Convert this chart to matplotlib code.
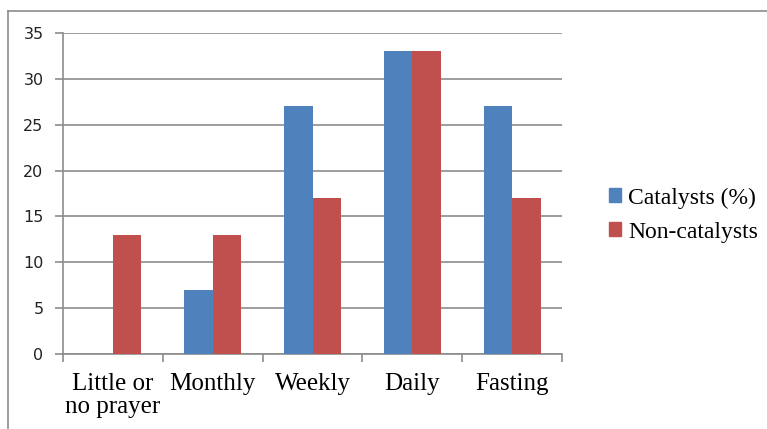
import matplotlib
matplotlib.use("Agg")
import matplotlib.pyplot as plt
import numpy as np
from matplotlib.patches import Patch
from matplotlib.lines import Line2D

categorias = ["Little or\nno prayer", "Monthly", "Weekly", "Daily", "Fasting"]
catalizadores = [0, 7, 27, 33, 27]
no_catalizadores = [13, 13, 17, 33, 17]
series = ["Catalysts (%)", "Non-catalysts"]
colores = ["#4F81BD", "#C0504D"]
yticks = [0, 5, 10, 15, 20, 25, 30, 35]

W, H = 767, 429
fig = plt.figure(figsize=(W / 100, H / 100), dpi=100)

# marco exterior (solo arriba e izquierda visibles)
fig.add_artist(Line2D([8 / W, 1.0], [1 - 11 / H, 1 - 11 / H], color="#8c8c8c", lw=1.2, transform=fig.transFigure))
fig.add_artist(Line2D([8 / W, 8 / W], [0, 1 - 11 / H], color="#8c8c8c", lw=1.2, transform=fig.transFigure))

ax = fig.add_axes([63 / W, 1 - 354 / H, (562 - 63) / W, (354 - 33) / H])

x = np.arange(len(categorias))
ancho = 0.285
ax.bar(x - ancho / 2, catalizadores, ancho, color=colores[0], zorder=3)
ax.bar(x + ancho / 2, no_catalizadores, ancho, color=colores[1], zorder=3)

ax.set_xlim(-0.5, len(categorias) - 0.5)
ax.set_ylim(0, 35)
ax.set_yticks(yticks)
ax.yaxis.grid(True, color="#8c8c8c", lw=1.2, zorder=0)

for lado in ["top", "right"]:
    ax.spines[lado].set_visible(False)
for lado in ["left", "bottom"]:
    ax.spines[lado].set_color("#8c8c8c")
    ax.spines[lado].set_linewidth(1.2)

ax.set_xticks(np.arange(len(categorias) + 1) - 0.5)
ax.set_xticklabels([])
ax.set_xticks(x, minor=True)
ax.set_xticklabels(categorias, minor=True, family="Liberation Serif", fontsize=18, linespacing=1.05)
ax.tick_params(axis="x", which="major", length=6, color="#8c8c8c", width=1.2)
ax.tick_params(axis="x", which="minor", length=0, pad=14)
ax.tick_params(axis="y", length=6, color="#8c8c8c", width=1.2, labelsize=11.5, pad=8, labelcolor="#222222")
for t in ax.get_xticklabels(minor=True):
    t.set_verticalalignment("top")

handles = [Patch(color=c) for c in colores]
fig.legend(handles, series, loc="center left", bbox_to_anchor=(588 / W, 1 - 215 / H),
           frameon=False, prop={"family": "Liberation Serif", "size": 17},
           handlelength=0.5, handleheight=0.5, handletextpad=0.3, labelspacing=0.55)

fig.savefig("out.png", dpi=100)
